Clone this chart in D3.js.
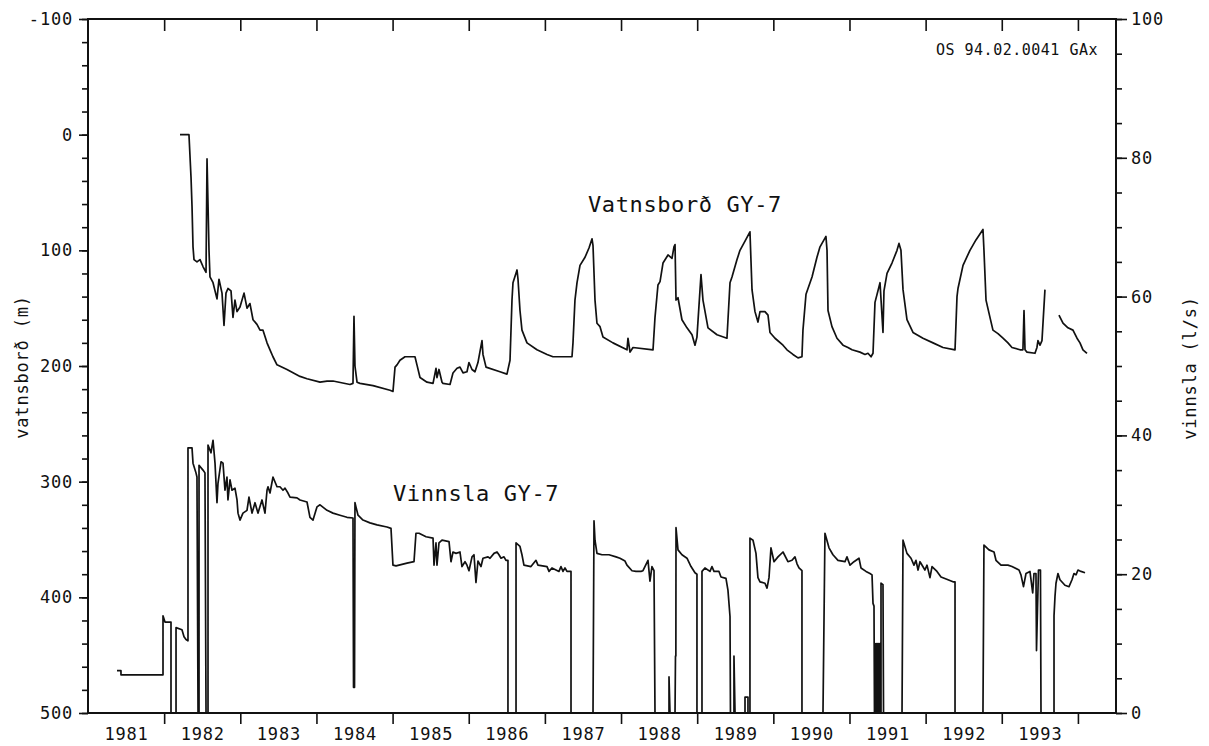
<!DOCTYPE html>
<html>
<head>
<meta charset="utf-8">
<script src="https://cdn.jsdelivr.net/npm/d3@7"></script>
<style>
  body { margin: 0; background: #fff; }
  svg { display: block; }
  text { font-family: "DejaVu Sans Mono", monospace; fill: #111; }
</style>
</head>
<body>
<svg id="chart" width="1209" height="746"></svg>
<script>
// ---------------- DATA ----------------
const yearLabels = [1981,1982,1983,1984,1985,1986,1987,1988,1989,1990,1991,1992,1993];
const yearBoundaries = [1982,1983,1984,1985,1986,1987,1988,1989,1990,1991,1992,1993,1994];
const levelTicks = [-100, 0, 100, 200, 300, 400, 500];
const levelMinorTicks = d3.range(-100, 501, 20);
const pumpTicks = [0, 20, 40, 60, 80, 100];
const pumpMinorTicks = d3.range(0, 101, 5);

const levelLabel = "Vatnsborð GY-7";
const pumpLabel = "Vinnsla GY-7";
const leftTitle = "vatnsborð (m)";
const rightTitle = "vinnsla (l/s)";
const stamp = "OS 94.02.0041 GAx";

// Water level (m below reference), [decimal year, value]; null = gap
const levelSeries = [
[1982.208,0],[1982.326,0],[1982.353,37],[1982.366,62],[1982.379,97],[1982.392,108],[1982.431,110],[1982.471,108],[1982.510,114],[1982.550,119],[1982.563,21],[1982.576,60],[1982.589,100],[1982.602,123],[1982.642,128],[1982.694,142],[1982.720,125],[1982.760,137],[1982.786,165],[1982.812,137],[1982.838,133],[1982.878,135],[1982.904,158],[1982.930,143],[1982.957,153],[1982.996,149],[1983.049,137],[1983.088,150],[1983.127,146],[1983.167,160],[1983.219,164],[1983.259,169],[1983.298,169],[1983.351,180],[1983.390,186],[1983.429,192],[1983.482,199],[1983.613,203],[1983.784,209],[1983.876,211],[1984.047,214],[1984.139,213],[1984.217,213],[1984.441,216],[1984.480,215],[1984.493,157],[1984.506,200],[1984.533,214],[1984.572,215],[1984.743,217],[1984.966,221],[1985.005,222],[1985.032,201],[1985.058,199],[1985.097,195],[1985.163,192],[1985.294,192],[1985.320,199],[1985.360,210],[1985.452,214],[1985.531,215],[1985.570,202],[1985.583,210],[1985.609,203],[1985.649,214],[1985.662,215],[1985.754,216],[1985.793,206],[1985.846,202],[1985.885,201],[1985.925,206],[1985.977,205],[1986.003,197],[1986.043,203],[1986.082,205],[1986.121,197],[1986.174,178],[1986.187,190],[1986.227,201],[1986.410,205],[1986.502,207],[1986.542,195],[1986.568,143],[1986.581,128],[1986.634,117],[1986.647,125],[1986.673,152],[1986.699,169],[1986.765,180],[1986.896,186],[1987.028,190],[1987.106,192],[1987.356,192],[1987.369,180],[1987.395,143],[1987.422,128],[1987.461,113],[1987.527,106],[1987.579,98],[1987.619,90],[1987.632,96],[1987.658,143],[1987.684,163],[1987.724,166],[1987.763,175],[1987.894,180],[1988.078,186],[1988.091,176],[1988.118,188],[1988.157,184],[1988.420,186],[1988.446,158],[1988.485,130],[1988.512,127],[1988.551,111],[1988.617,104],[1988.669,107],[1988.695,97],[1988.709,95],[1988.722,143],[1988.748,141],[1988.800,160],[1988.866,167],[1988.932,173],[1988.971,182],[1988.997,175],[1989.050,121],[1989.076,143],[1989.142,167],[1989.260,173],[1989.391,176],[1989.431,128],[1989.457,123],[1989.523,108],[1989.562,100],[1989.628,92],[1989.693,84],[1989.720,134],[1989.759,153],[1989.798,162],[1989.825,153],[1989.890,153],[1989.930,156],[1989.956,171],[1990.022,176],[1990.127,182],[1990.179,186],[1990.258,190],[1990.324,193],[1990.376,192],[1990.389,169],[1990.429,138],[1990.508,123],[1990.573,106],[1990.613,97],[1990.691,88],[1990.705,100],[1990.718,152],[1990.770,166],[1990.836,176],[1990.915,182],[1990.980,184],[1991.033,186],[1991.138,188],[1991.204,190],[1991.243,189],[1991.283,192],[1991.309,189],[1991.335,145],[1991.401,128],[1991.440,171],[1991.453,135],[1991.493,120],[1991.558,111],[1991.624,100],[1991.650,94],[1991.676,100],[1991.703,134],[1991.755,160],[1991.834,171],[1991.965,176],[1992.097,180],[1992.228,184],[1992.386,186],[1992.412,140],[1992.425,133],[1992.491,113],[1992.582,100],[1992.661,91],[1992.753,82],[1992.766,100],[1992.793,143],[1992.845,158],[1992.884,169],[1992.950,172],[1993.016,176],[1993.081,180],[1993.134,184],[1993.239,186],[1993.278,186],[1993.292,152],[1993.305,186],[1993.331,188],[1993.436,189],[1993.462,184],[1993.475,178],[1993.502,182],[1993.528,178],[1993.567,134],[1993.660,null],[1993.751,156],[1993.804,163],[1993.869,167],[1993.935,169],[1993.988,176],[1994.027,180],[1994.066,186],[1994.119,189]
];

// Pumping rate (l/s), [decimal year, value]
const pumpSeries = [
[1981.381,6.1],[1981.433,6.1],[1981.433,5.5],[1981.985,5.5],[1981.985,14.0],[1982.011,13.1],[1982.090,13.1],[1982.090,0],[1982.156,0],[1982.156,12.3],[1982.234,12.0],[1982.261,11.0],[1982.287,10.6],[1982.313,10.4],[1982.313,38.2],[1982.366,38.2],[1982.379,36.0],[1982.418,34.6],[1982.431,34.0],[1982.445,0],[1982.458,0],[1982.458,35.7],[1982.510,35.0],[1982.536,34.6],[1982.550,0],[1982.576,0],[1982.576,38.6],[1982.615,37.5],[1982.642,39.3],[1982.668,36.0],[1982.694,30.3],[1982.707,33.1],[1982.747,36.2],[1982.773,36.0],[1982.799,32.1],[1982.825,34.0],[1982.838,30.7],[1982.865,33.6],[1982.891,32.1],[1982.930,32.4],[1982.957,30.7],[1982.970,28.8],[1982.996,27.8],[1983.035,28.8],[1983.088,29.2],[1983.114,31.1],[1983.154,28.8],[1983.193,30.3],[1983.232,28.8],[1983.285,30.7],[1983.324,28.8],[1983.351,32.1],[1983.364,32.6],[1983.390,31.7],[1983.429,34.0],[1983.482,32.6],[1983.521,32.6],[1983.561,32.1],[1983.587,32.4],[1983.626,31.7],[1983.653,31.1],[1983.745,31.0],[1983.784,30.7],[1983.876,30.4],[1983.915,28.2],[1983.955,27.8],[1984.007,29.7],[1984.047,30.0],[1984.139,29.2],[1984.217,28.8],[1984.309,28.5],[1984.401,28.2],[1984.480,28.1],[1984.487,3.7],[1984.500,3.7],[1984.506,30.3],[1984.519,29.7],[1984.546,28.5],[1984.611,27.8],[1984.703,27.4],[1984.795,27.1],[1984.926,26.8],[1984.979,26.6],[1985.005,21.3],[1985.045,21.2],[1985.189,21.6],[1985.281,21.8],[1985.307,25.9],[1985.347,25.9],[1985.439,25.4],[1985.531,25.2],[1985.544,21.3],[1985.570,24.5],[1985.583,21.3],[1985.609,24.5],[1985.649,24.9],[1985.741,24.7],[1985.767,21.8],[1985.793,23.2],[1985.833,23.0],[1985.885,23.2],[1985.911,21.1],[1985.951,21.8],[1985.977,21.3],[1986.003,20.5],[1986.043,22.5],[1986.069,22.8],[1986.095,18.8],[1986.121,21.9],[1986.161,21.1],[1986.187,22.3],[1986.253,22.5],[1986.279,22.3],[1986.332,23.0],[1986.371,23.2],[1986.397,22.8],[1986.424,22.3],[1986.463,22.5],[1986.489,22.0],[1986.515,22.0],[1986.515,0],[1986.621,0],[1986.621,24.5],[1986.673,24.0],[1986.699,22.8],[1986.725,21.3],[1986.817,21.1],[1986.883,22.0],[1986.909,21.3],[1987.028,21.1],[1987.054,20.4],[1987.093,20.9],[1987.185,20.4],[1987.211,21.1],[1987.238,20.4],[1987.264,20.9],[1987.290,20.4],[1987.343,20.4],[1987.343,0],[1987.632,0],[1987.645,27.7],[1987.658,24.9],[1987.684,23.0],[1987.750,22.8],[1987.842,22.8],[1987.934,22.5],[1987.986,22.3],[1988.052,21.9],[1988.078,21.3],[1988.144,20.5],[1988.196,20.4],[1988.262,20.4],[1988.288,20.5],[1988.354,22.0],[1988.380,19.0],[1988.406,21.1],[1988.433,20.5],[1988.446,0],[1988.630,0],[1988.630,5.2],[1988.643,0],[1988.709,0],[1988.715,8.2],[1988.720,8.2],[1988.722,26.7],[1988.748,23.5],[1988.800,22.8],[1988.866,22.3],[1988.919,21.1],[1988.971,20.2],[1988.997,20.0],[1988.997,0],[1989.063,0],[1989.063,20.4],[1989.102,20.9],[1989.168,20.4],[1989.194,21.1],[1989.221,20.4],[1989.286,20.4],[1989.313,19.6],[1989.378,19.4],[1989.404,17.7],[1989.431,13.9],[1989.437,0],[1989.483,0],[1989.483,8.2],[1989.497,0],[1989.628,0],[1989.628,2.3],[1989.667,2.3],[1989.667,0],[1989.693,0],[1989.693,25.2],[1989.733,24.9],[1989.772,23.0],[1989.798,19.5],[1989.825,18.9],[1989.890,18.7],[1989.917,18.0],[1989.943,19.5],[1989.969,23.8],[1990.009,21.8],[1990.061,22.5],[1990.127,23.2],[1990.192,21.8],[1990.245,22.0],[1990.284,22.5],[1990.311,21.5],[1990.337,20.9],[1990.376,20.5],[1990.376,0],[1990.652,0],[1990.678,25.9],[1990.731,23.8],[1990.783,22.8],[1990.849,22.0],[1990.941,21.8],[1990.967,22.5],[1991.007,21.3],[1991.059,21.8],[1991.125,22.3],[1991.151,20.9],[1991.217,20.4],[1991.269,20.1],[1991.296,19.9],[1991.309,15.8],[1991.322,15.4],[1991.328,0],[1991.335,10],[1991.341,0],[1991.348,10],[1991.354,0],[1991.361,10],[1991.367,0],[1991.374,10],[1991.381,0],[1991.387,10],[1991.394,0],[1991.401,10],[1991.407,0],[1991.414,0],[1991.414,18.7],[1991.440,18.5],[1991.447,0],[1991.690,0],[1991.703,24.9],[1991.755,23.0],[1991.808,22.3],[1991.847,21.3],[1991.873,22.0],[1991.900,20.6],[1991.926,21.8],[1991.991,20.6],[1992.018,21.3],[1992.057,19.5],[1992.084,21.1],[1992.149,20.4],[1992.202,19.6],[1992.294,19.2],[1992.359,18.9],[1992.386,18.9],[1992.386,0],[1992.753,0],[1992.766,24.2],[1992.832,23.5],[1992.898,23.2],[1992.924,22.0],[1992.990,21.3],[1993.081,21.3],[1993.134,21.1],[1993.226,20.6],[1993.252,19.9],[1993.285,18.2],[1993.318,20.1],[1993.370,20.4],[1993.406,17.3],[1993.423,20.1],[1993.449,20.1],[1993.456,9.0],[1993.469,15.0],[1993.482,20.6],[1993.508,20.6],[1993.515,0],[1993.686,0],[1993.686,14.0],[1993.699,16.8],[1993.712,18.7],[1993.738,20.1],[1993.764,19.2],[1993.830,18.4],[1993.883,18.2],[1993.922,19.2],[1993.948,20.1],[1993.975,19.9],[1994.001,20.6],[1994.040,20.4],[1994.093,20.2]
];

// ---------------- CHART ----------------
const svg = d3.select("#chart");
const m = { left: 88, right: 1116, top: 19, bottom: 713 };

const x = d3.scaleLinear().domain([1981, 1994.5]).range([m.left, m.right]);
const yL = d3.scaleLinear().domain([-100, 500]).range([m.top, m.bottom]);
const yR = d3.scaleLinear().domain([0, 100]).range([m.bottom, m.top]);

const ink = "#111";
const labelSize = 17;

function styleAxis(g) {
  g.select(".domain").remove();
  g.selectAll(".tick line").attr("stroke", ink).attr("stroke-width", 1.6);
  g.selectAll(".tick text").attr("font-size", labelSize).attr("fill", ink)
    .attr("font-family", '"DejaVu Sans Mono", monospace').attr("letter-spacing", 0.8);
}

// Left axis (water level)
svg.append("g").attr("transform", `translate(${m.left},0)`)
  .call(d3.axisLeft(yL).tickValues(levelMinorTicks).tickSize(6).tickFormat(""))
  .call(styleAxis);
svg.append("g").attr("transform", `translate(${m.left},0)`)
  .call(d3.axisLeft(yL).tickValues(levelTicks).tickSize(9).tickPadding(6)
    .tickFormat(d => d < 0 ? "-" + Math.abs(d) : String(d)))
  .call(styleAxis);

// Right axis (pumping)
svg.append("g").attr("transform", `translate(${m.right},0)`)
  .call(d3.axisRight(yR).tickValues(pumpMinorTicks).tickSize(6).tickFormat(""))
  .call(styleAxis);
svg.append("g").attr("transform", `translate(${m.right},0)`)
  .call(d3.axisRight(yR).tickValues(pumpTicks).tickSize(11).tickPadding(4).tickFormat(d3.format("d")))
  .call(styleAxis);

// Bottom axis: ticks at year boundaries, labels centred in each year
svg.append("g").attr("transform", `translate(0,${m.bottom})`)
  .call(d3.axisBottom(x).tickValues(yearBoundaries).tickSize(11).tickFormat(""))
  .call(styleAxis);
svg.append("g").attr("transform", `translate(0,${m.bottom})`)
  .call(d3.axisBottom(x).tickValues(yearLabels.map(d => d + 0.5)).tickSize(0).tickPadding(15)
    .tickFormat(d => String(Math.floor(d))))
  .call(styleAxis)
  .call(g => g.selectAll(".tick line").remove());

// Top axis: inward ticks at year boundaries
svg.append("g").attr("transform", `translate(0,${m.top})`)
  .call(d3.axisBottom(x).tickValues(yearBoundaries).tickSize(12).tickFormat(""))
  .call(styleAxis);

// Frame
svg.append("rect")
  .attr("x", m.left).attr("y", m.top)
  .attr("width", m.right - m.left).attr("height", m.bottom - m.top)
  .attr("fill", "none").attr("stroke", ink).attr("stroke-width", 2);

// Series
const levelLine = d3.line()
  .defined(d => d[1] !== null)
  .x(d => x(d[0])).y(d => yL(d[1]));
const pumpLine = d3.line()
  .x(d => x(d[0])).y(d => yR(d[1]));

svg.append("path").datum(pumpSeries)
  .attr("d", pumpLine).attr("fill", "none")
  .attr("stroke", ink).attr("stroke-width", 1.7).attr("stroke-linejoin", "round");
svg.append("path").datum(levelSeries)
  .attr("d", levelLine).attr("fill", "none")
  .attr("stroke", ink).attr("stroke-width", 1.7).attr("stroke-linejoin", "round");

// Labels
svg.append("text").attr("x", 588).attr("y", 212)
  .attr("font-size", 22).attr("letter-spacing", 0.6).text(levelLabel);
svg.append("text").attr("x", 393).attr("y", 501)
  .attr("font-size", 22).attr("letter-spacing", 0.6).text(pumpLabel);

svg.append("text").attr("x", 1098).attr("y", 55)
  .attr("text-anchor", "end").attr("font-size", 15).attr("letter-spacing", 0.5).text(stamp);

svg.append("text").attr("transform", "translate(28,367) rotate(-90)")
  .attr("text-anchor", "middle").attr("font-size", 17).attr("letter-spacing", 0.8).text(leftTitle);
svg.append("text").attr("transform", "translate(1196,368) rotate(-90)")
  .attr("text-anchor", "middle").attr("font-size", 17).attr("letter-spacing", 0.8).text(rightTitle);
</script>
</body>
</html>
